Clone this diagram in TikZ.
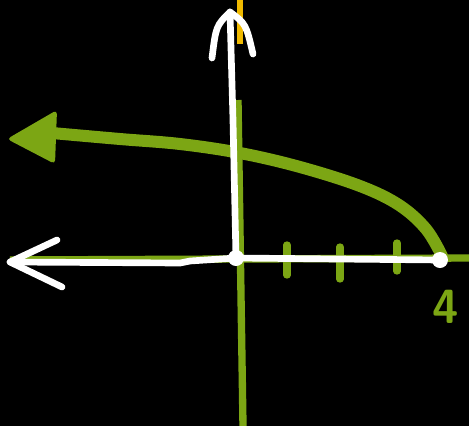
\documentclass[tikz,border=0pt]{standalone}
\usepackage{tikz}
\usetikzlibrary{arrows.meta,positioning}
\definecolor{plotgreen}{RGB}{124,166,20}
\definecolor{markyellow}{RGB}{240,186,0}

\begin{document}
\begin{tikzpicture}[x=0.75pt, y=-0.75pt,
  axis/.style={draw=plotgreen, line width=5.5pt},
  tickmark/.style={draw=plotgreen, line width=5.5pt, line cap=round},
  curveline/.style={draw=plotgreen, line width=9pt, line cap=round, line join=round},
  vecline/.style={draw=white, line width=5pt, line cap=round, line join=round},
  dotmark/.style={circle, fill=white, inner sep=0pt, minimum size=12pt},
  numlabel/.style={text=plotgreen, font=\sffamily\bfseries\fontsize{36}{36}\selectfont}
]

% Background and frame
\fill[black] (0,0) rectangle (469,426);
\useasboundingbox (0,0) rectangle (469,426);
\clip (0,0) rectangle (469,426);

% Green axes
\coordinate (yaxtop) at (238,100);
\coordinate (yaxbot) at (243,426);
\coordinate (xaxleft) at (10,260);
\coordinate (xaxright) at (469,258);
\draw[axis] (yaxtop) -- (yaxbot);
\draw[axis] (xaxleft) -- (xaxright);

% Tick marks
\foreach \tx/\ta/\tb in {287/245/275, 340/247/279, 397/243/271}
  \draw[tickmark] (\tx,\ta) -- (\tx,\tb);

% Green curve with its arrowhead
\coordinate (curvestart) at (442,256);
\coordinate (curveend) at (52,133);
\coordinate (curvetip) at (7,139);
\draw[curveline] plot[smooth, tension=0.6] coordinates {(curvestart) (426,229) (399,205) (360,186) (300,167) (240,153) (180,144) (120,139) (curveend)};
\fill[plotgreen, rounded corners=3pt] (curvetip) -- (57,110) -- (55,164) -- cycle;

% Yellow stroke
\draw[draw=markyellow, line width=4.5pt] (240,0) -- (240,44);

% White vectors
\coordinate (origin) at (236,258);
\coordinate (ptfour) at (440,260);
\coordinate (uptip) at (230,12);
\coordinate (lefttip) at (10,262);
\draw[vecline] (origin) -- (233,120) -- (uptip);
\draw[vecline] (212,58) .. controls (216,26) .. (uptip) .. controls (246,24) .. (253,54);
\draw[vecline] (origin) -- (190,261) -- (180,263) -- (lefttip);
\draw[vecline] (57,240) -- (lefttip) -- (62,287);
\draw[vecline] (origin) -- (ptfour);

% Points
\node[dotmark] (origindot) at (origin) {};
\node[dotmark] (fourdot) at (ptfour) {};

% Label
\node[numlabel] (fourlabel) at (446,307) {4};

\end{tikzpicture}
\end{document}
